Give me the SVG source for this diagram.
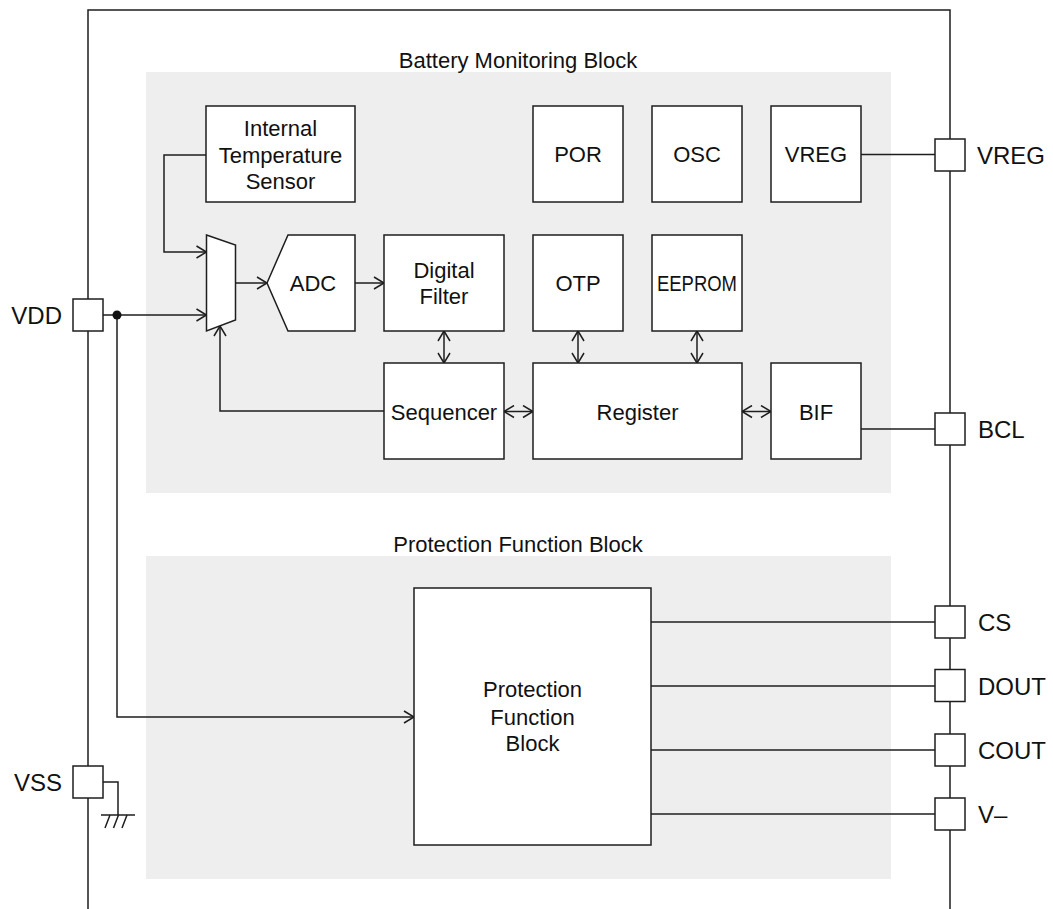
<svg xmlns="http://www.w3.org/2000/svg" width="1053" height="909" viewBox="0 0 1053 909">
  <style>
    .area { fill: #eeeeee; stroke: none; }
    .box { fill: #ffffff; stroke: #1e1e1e; stroke-width: 1.5; }
    .pin { fill: #ffffff; stroke: #1e1e1e; stroke-width: 1.5; }
    .wire { fill: none; stroke: #1e1e1e; stroke-width: 1.5; }
    .lbl { font-family: "Liberation Sans", Arial, sans-serif; font-size: 22px; fill: #111111; text-anchor: middle; }
    .pinlbl { font-family: "Liberation Sans", Arial, sans-serif; font-size: 24px; fill: #111111; }
  </style>
  <defs>
    <marker id="arr" markerUnits="userSpaceOnUse" markerWidth="14" markerHeight="14" refX="11" refY="7" orient="auto-start-reverse">
      <path d="M1,1 L11,7 L1,13" fill="none" stroke="#1e1e1e" stroke-width="1.5"/>
    </marker>
  </defs>

  <!-- package outline -->
  <g id="package">
    <path class="wire" d="M88,909 V10 H950 V909"/>
  </g>

  <!-- functional areas -->
  <g id="battery-monitoring-area">
    <rect class="area" x="146" y="72" width="745" height="421"/>
    <text class="lbl" x="518" y="68">Battery Monitoring Block</text>
  </g>
  <g id="protection-area">
    <rect class="area" x="146" y="556" width="745" height="323"/>
    <text class="lbl" x="518" y="552">Protection Function Block</text>
  </g>

  <!-- connectors -->
  <g id="connectors">
    <path class="wire" d="M103,315 H206.5" marker-end="url(#arr)"/>
    <path class="wire" d="M117,315 V717 H414" marker-end="url(#arr)"/>
    <path class="wire" d="M206,155 H164 V252 H206.5" marker-end="url(#arr)"/>
    <path class="wire" d="M235.5,283 H267" marker-end="url(#arr)"/>
    <path class="wire" d="M355,283 H384" marker-end="url(#arr)"/>
    <path class="wire" d="M384,411 H220 V326" marker-end="url(#arr)"/>
    <path class="wire" d="M444,331 V363" marker-start="url(#arr)" marker-end="url(#arr)"/>
    <path class="wire" d="M578,331 V363" marker-start="url(#arr)" marker-end="url(#arr)"/>
    <path class="wire" d="M697,331 V363" marker-start="url(#arr)" marker-end="url(#arr)"/>
    <path class="wire" d="M504,411.5 H533" marker-start="url(#arr)" marker-end="url(#arr)"/>
    <path class="wire" d="M742,411.5 H771" marker-start="url(#arr)" marker-end="url(#arr)"/>
    <path class="wire" d="M861,154.5 H935"/>
    <path class="wire" d="M861,429 H935"/>
    <path class="wire" d="M651,622 H935"/>
    <path class="wire" d="M651,686 H935"/>
    <path class="wire" d="M651,750 H935"/>
    <path class="wire" d="M651,814 H935"/>
    <circle cx="117" cy="315" r="4.5" fill="#111111"/>
    <!-- VSS ground -->
    <path class="wire" d="M103,782 H118 V815"/>
    <path class="wire" d="M101,815 H135"/>
    <path class="wire" d="M110,815 L105,828 M118.5,815 L113.5,828 M127,815 L122,828"/>
  </g>

  <!-- blocks -->
  <g id="temp-sensor">
    <rect class="box" x="206" y="106" width="149" height="96"/>
    <text class="lbl" x="280.5" y="136">Internal</text>
    <text class="lbl" x="280.5" y="162.5">Temperature</text>
    <text class="lbl" x="280.5" y="188.5">Sensor</text>
  </g>
  <g id="mux">
    <polygon class="box" points="206.5,235 235.5,245 235.5,320 206.5,331"/>
  </g>
  <g id="adc">
    <polygon class="box" points="267,283 288,235 355,235 355,331 288,331"/>
    <text class="lbl" x="313" y="291">ADC</text>
  </g>
  <g id="digital-filter">
    <rect class="box" x="384" y="235" width="120" height="96"/>
    <text class="lbl" x="444" y="278">Digital</text>
    <text class="lbl" x="444" y="304">Filter</text>
  </g>
  <g id="otp">
    <rect class="box" x="533" y="235" width="90" height="96"/>
    <text class="lbl" x="578" y="291">OTP</text>
  </g>
  <g id="eeprom">
    <rect class="box" x="652" y="235" width="90" height="96"/>
    <text class="lbl" x="697" y="291" textLength="80" lengthAdjust="spacingAndGlyphs">EEPROM</text>
  </g>
  <g id="por">
    <rect class="box" x="533" y="106" width="90" height="96"/>
    <text class="lbl" x="578" y="162">POR</text>
  </g>
  <g id="osc">
    <rect class="box" x="652" y="106" width="90" height="96"/>
    <text class="lbl" x="697" y="162">OSC</text>
  </g>
  <g id="vreg">
    <rect class="box" x="771" y="106" width="90" height="96"/>
    <text class="lbl" x="816" y="162">VREG</text>
  </g>
  <g id="sequencer">
    <rect class="box" x="384" y="363" width="120" height="96"/>
    <text class="lbl" x="444" y="419.5">Sequencer</text>
  </g>
  <g id="register">
    <rect class="box" x="533" y="363" width="209" height="96"/>
    <text class="lbl" x="637.5" y="419.5">Register</text>
  </g>
  <g id="bif">
    <rect class="box" x="771" y="363" width="90" height="96"/>
    <text class="lbl" x="816" y="419.5">BIF</text>
  </g>
  <g id="protection-block">
    <rect class="box" x="414" y="588" width="237" height="257"/>
    <text class="lbl" x="532.5" y="697">Protection</text>
    <text class="lbl" x="532.5" y="725">Function</text>
    <text class="lbl" x="532.5" y="751">Block</text>
  </g>

  <!-- pins -->
  <g id="pin-vdd">
    <rect class="pin" x="73" y="299" width="30" height="32"/>
    <text class="pinlbl" x="62" y="324" text-anchor="end">VDD</text>
  </g>
  <g id="pin-vss">
    <rect class="pin" x="73" y="766" width="30" height="32"/>
    <text class="pinlbl" x="62" y="791" text-anchor="end">VSS</text>
  </g>
  <g id="pin-vreg">
    <rect class="pin" x="935" y="139" width="30" height="32"/>
    <text class="pinlbl" x="977" y="163.5">VREG</text>
  </g>
  <g id="pin-bcl">
    <rect class="pin" x="935" y="413" width="30" height="32"/>
    <text class="pinlbl" x="978" y="437.5">BCL</text>
  </g>
  <g id="pin-cs">
    <rect class="pin" x="935" y="606" width="30" height="32"/>
    <text class="pinlbl" x="978" y="630.5">CS</text>
  </g>
  <g id="pin-dout">
    <rect class="pin" x="935" y="669.5" width="30" height="32"/>
    <text class="pinlbl" x="978" y="694.5">DOUT</text>
  </g>
  <g id="pin-cout">
    <rect class="pin" x="935" y="734" width="30" height="32"/>
    <text class="pinlbl" x="978" y="758.5">COUT</text>
  </g>
  <g id="pin-vminus">
    <rect class="pin" x="935" y="798" width="30" height="32"/>
    <text class="pinlbl" x="978" y="822.5">V–</text>
  </g>
</svg>
